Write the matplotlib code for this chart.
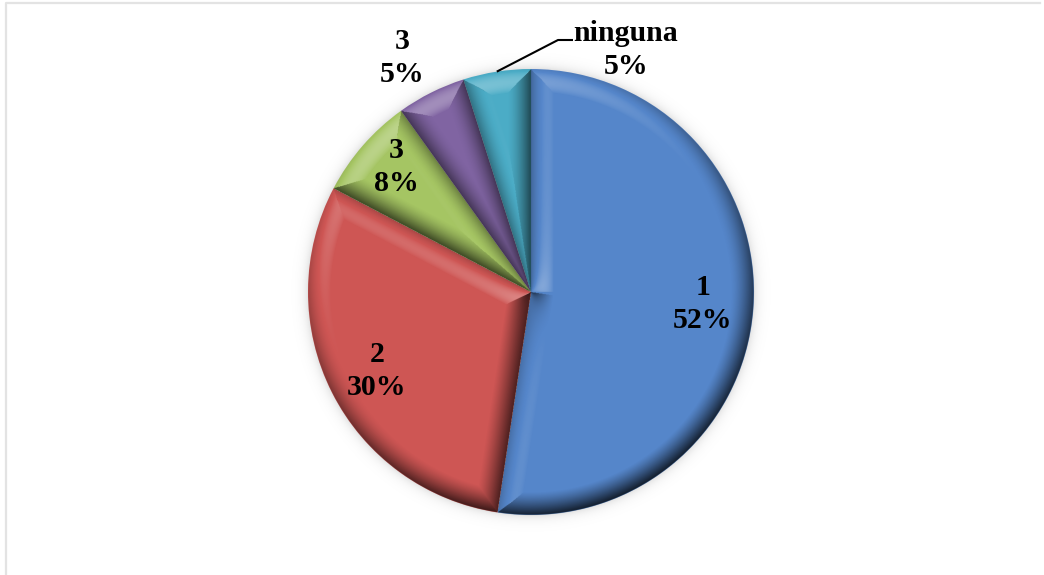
import matplotlib
matplotlib.use("Agg")
import matplotlib.pyplot as plt
import numpy as np

categories = ["1", "2", "3", "3", "ninguna"]
percent_labels = ["52%", "30%", "8%", "5%", "5%"]
values = [52.4, 30.3, 7.4, 5.0, 4.9]
colors = ["#5586CA", "#CE5654", "#A5C563", "#8064A2", "#4BACC6"]
# label centres in figure pixels (y counted from the top)
label_xy = [(703, 304), (377, 371), (396, 167), (402, 58), (626, 50)]

W, H = 1044, 575
CX, CY, R = 531, H - 292, 223
BEVEL = 23.0

plt.rcParams["font.family"] = ["Liberation Serif", "DejaVu Serif"]

fig = plt.figure(figsize=(W / 100, H / 100), dpi=100)
ax = fig.add_axes([0, 0, 1, 1])

# soft shadow around the pie
xs = np.arange(0, W, 0.5) + 0.25
ys = np.arange(0, H, 0.5) + 0.25
gx, gy = np.meshgrid(xs, ys)
dx, dy = gx - CX, gy - CY
r = np.hypot(dx, dy)
shadow = np.zeros(r.shape + (4,))
shadow[..., 3] = np.where(r > R - 2, 0.17 * np.exp(-np.clip(r - R + 2, 0, None) / 5.0), 0)
ax.imshow(shadow, extent=(0, W, 0, H), origin="lower", zorder=1, interpolation="antialiased")

wedges, _ = ax.pie(values, colors=colors, startangle=90, counterclock=False,
                   center=(CX, CY), radius=R, frame=True,
                   wedgeprops=dict(linewidth=0, zorder=2))

# bevel shading, computed per slice
fractions = np.array(values) / np.sum(values)
edges = np.concatenate([[0], np.cumsum(fractions)]) * 2 * np.pi
theta = np.mod(np.arctan2(dx, dy), 2 * np.pi)  # clockwise from top
idx = np.clip(np.searchsorted(edges, theta, side="right") - 1, 0, len(values) - 1)
d_start = theta - edges[idx]
d_end = edges[idx + 1] - theta


def ray_dist(a):
    return np.where(a < np.pi / 2, r * np.sin(a), 1e6)


dist = np.stack([R - r, ray_dist(d_start), ray_dist(d_end)])
face = np.argmin(dist, axis=0)
d = np.min(dist, axis=0)

rr = np.maximum(r, 1e-6)
nx = np.choose(face, [dx / rr, -dy / rr, dy / rr])
ny = np.choose(face, [dy / rr, dx / rr, -dx / rr])

lxy = np.array([-0.45, 0.89])
elev = np.radians(55)
lx, ly, lz = lxy[0] * np.cos(elev), lxy[1] * np.cos(elev), np.sin(elev)
phi = np.radians(72) * np.clip(1 - d / BEVEL, 0, 1)
shade = np.sin(phi) * (nx * lx + ny * ly) + np.cos(phi) * lz - lz

overlay = np.zeros(r.shape + (4,))
overlay[..., :3] = np.where(shade[..., None] > 0, 1.0, 0.0)
alpha = np.where(shade > 0, shade * 1.5, -shade * 0.72)
edge_fade = np.clip((R - r) * 2, 0, 1)
overlay[..., 3] = np.clip(alpha, 0, 0.92) * edge_fade
ax.imshow(overlay, extent=(0, W, 0, H), origin="lower", zorder=3, interpolation="antialiased")

ax.set_xlim(0, W)
ax.set_ylim(0, H)
ax.set_aspect("equal")
ax.axis("off")

# leader line for the last slice
mid = (edges[-2] + edges[-1]) / 2
ax.plot([CX + R * np.sin(mid), 558, 573], [CY + R * np.cos(mid), H - 40, H - 40],
        color="black", lw=1.5, zorder=4, solid_capstyle="butt")

for cat, pct, (x, y) in zip(categories, percent_labels, label_xy):
    ax.text(x, H - y, f"{cat}\n{pct}", ha="center", va="center", fontsize=21.5,
            fontweight="bold", color="black", linespacing=1.3, zorder=5)

# pale chart border, top and left only
ax.plot([6, 6, 1040], [0, H - 3, H - 3], color="#E3E3E3", lw=1.6, zorder=0)

fig.savefig("out.png", dpi=100)
plt.close(fig)
